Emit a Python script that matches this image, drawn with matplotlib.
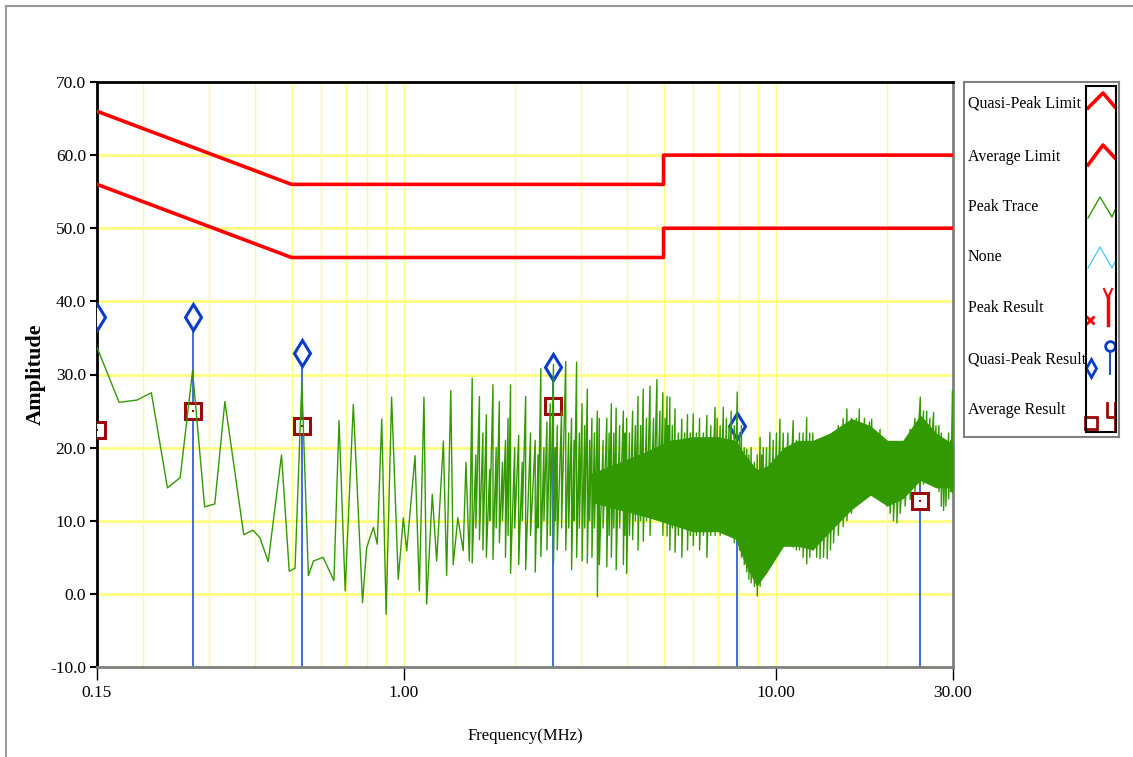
import matplotlib
matplotlib.use('Agg')
import matplotlib.pyplot as plt
from matplotlib.lines import Line2D
from matplotlib.patches import Rectangle
from matplotlib.ticker import FixedLocator, NullFormatter

plt.rcParams['font.family'] = ['Liberation Serif', 'DejaVu Serif']

# -----------------------------
# Data (MHz / dBuV)
# -----------------------------
qp_limit_f = [0.15, 0.5, 5.0, 5.0, 30.0]
qp_limit_v = [66.0, 56.0, 56.0, 60.0, 60.0]
avg_limit_f = [0.15, 0.5, 5.0, 5.0, 30.0]
avg_limit_v = [56.0, 46.0, 46.0, 50.0, 50.0]

# peak trace below 1.5 MHz, point by point
trace_f = [0.150, 0.172, 0.192, 0.210, 0.232, 0.251, 0.271, 0.292, 0.311, 0.331,
           0.372, 0.394, 0.411, 0.433, 0.470, 0.493, 0.511, 0.533, 0.555, 0.573,
           0.608, 0.650, 0.671, 0.697, 0.733, 0.776, 0.796, 0.830, 0.850, 0.874,
           0.898, 0.929, 0.968, 0.999, 1.020, 1.074, 1.103, 1.135, 1.154, 1.195,
           1.228, 1.280, 1.306, 1.340, 1.360, 1.400, 1.447, 1.472, 1.503]
trace_v = [33.7, 26.2, 26.5, 27.5, 14.5, 15.9, 30.5, 11.9, 12.3, 26.3,
           8.1, 8.7, 7.7, 4.4, 19.0, 3.1, 3.5, 29.0, 2.5, 4.5,
           5.0, 1.8, 23.7, 0.4, 25.9, -1.2, 6.3, 9.1, 6.8, 23.9,
           -2.8, 26.9, 2.0, 10.4, 5.9, 18.9, 0.4, 26.9, -1.4, 13.6,
           4.5, 20.9, 2.5, 27.8, 4.0, 10.4, 5.9, 18.0, 4.5]

# above 1.5 MHz the sweep is dense: top and bottom of each column
col_f = [1.53, 1.565, 1.60, 1.635, 1.67, 1.705, 1.74, 1.775, 1.81, 1.845,
         1.88, 1.91, 1.94, 1.99, 2.04, 2.085, 2.13, 2.195, 2.26, 2.30,
         2.34, 2.385, 2.43, 2.48, 2.53, 2.56, 2.59, 2.66, 2.73, 2.78,
         2.83, 2.875, 2.92, 2.97, 3.02, 3.07, 3.12, 3.165, 3.21, 3.26,
         3.32, 3.36, 3.44, 3.52, 3.57, 3.62, 3.675, 3.73, 3.81, 3.90,
         3.94, 3.98, 4.05, 4.13, 4.20, 4.27, 4.34, 4.41, 4.50, 4.60,
         4.70, 4.80, 4.89, 4.98, 5.05, 5.11, 5.155, 5.20,
         5.28, 5.37, 5.48, 5.60, 5.70, 5.80, 5.90, 6.01, 6.13, 6.25,
         6.40, 6.54, 6.70, 6.88, 6.97, 7.10, 7.24, 7.38, 7.50, 7.60,
         7.75, 7.89, 8.00, 8.10, 8.24, 8.37, 8.48, 8.60, 8.77, 8.93,
         9.09, 9.18, 9.27, 9.46, 9.66, 9.86, 10.06, 10.28, 10.49, 10.80,
         11.16, 11.38, 11.60, 11.86, 12.13, 12.36, 12.60, 12.90, 13.17, 13.46,
         13.77, 14.05, 14.32, 14.75, 15.20, 15.56, 16.00, 16.50, 16.80, 17.35,
         17.90, 18.14, 18.60, 19.10, 19.50, 19.90, 20.32, 20.75, 21.20, 21.62,
         22.30, 23.00, 23.70, 24.50, 25.00, 25.50, 26.00, 26.60, 27.00, 27.50,
         27.90, 28.30, 28.70, 29.20, 29.60, 29.90]
col_hi = [29.5, 19.0, 27.0, 22.0, 24.5, 17.0, 28.6, 20.0, 26.3, 18.0,
          21.0, 24.0, 28.6, 20.0, 21.7, 18.0, 27.0, 22.0, 21.0, 19.0,
          30.8, 20.0, 23.5, 26.0, 31.4, 20.0, 23.0, 25.0, 31.8, 22.0,
          24.0, 21.0, 31.7, 22.0, 26.0, 23.0, 28.0, 21.0, 24.0, 22.0,
          25.0, 24.0, 21.0, 24.0, 22.0, 26.0, 22.0, 25.4, 23.0, 25.0,
          22.0, 24.0, 22.0, 25.0, 23.0, 27.0, 23.0, 28.0, 24.0, 28.4,
          24.0, 29.3, 25.0, 27.5, 24.0, 27.0, 23.0, 26.9,
          23.0, 25.3, 22.0, 23.9, 22.0, 24.5, 22.0, 24.6, 22.0, 24.0,
          22.0, 24.4, 23.0, 25.5, 24.0, 23.0, 25.5, 24.0, 23.0, 25.0,
          23.0, 27.6, 22.0, 23.0, 20.0, 19.8, 19.0, 20.0, 18.0, 19.0,
          21.4, 19.0, 20.0, 20.0, 22.1, 21.0, 22.0, 23.9, 22.0, 22.0,
          23.7, 21.0, 22.0, 22.0, 24.1, 22.0, 22.0, 21.0, 21.2, 20.0,
          20.5, 21.0, 21.6, 23.0, 24.0, 25.3, 24.0, 24.0, 25.3, 24.0,
          23.5, 23.9, 22.0, 22.5, 21.0, 20.0, 19.8, 20.0, 20.0, 20.5,
          21.0, 22.5, 24.0, 26.9, 25.0, 25.0, 24.0, 24.8, 23.0, 23.0,
          22.0, 21.2, 21.0, 22.0, 21.0, 27.8]
col_lo = [4.2, 9.0, 7.4, 6.0, 5.0, 10.0, 4.7, 9.0, 7.0, 10.0,
          5.0, 8.0, 2.8, 9.0, 4.0, 10.0, 3.3, 8.0, 3.0, 9.0,
          5.1, 10.0, 6.0, 8.0, 4.0, 10.0, 6.0, 9.0, 6.0, 9.0,
          3.3, 10.0, 5.0, 9.0, 4.5, 9.0, 4.2, 10.0, 5.0, 9.0,
          -0.4, 4.0, 9.0, 3.7, 8.0, 5.0, 9.0, 3.3, 9.0, 4.0,
          8.0, 2.8, 8.0, 7.4, 10.0, 6.0, 10.0, 7.2, 10.0, 8.0,
          11.0, 10.2, 11.0, 8.0, 10.0, 7.9, 10.0, 6.0,
          9.0, 5.7, 8.0, 5.0, 9.0, 6.0, 8.0, 6.6, 8.0, 6.0,
          8.0, 5.0, 8.0, 8.0, 9.2, 8.0, 9.0, 8.7, 9.0, 8.0,
          7.0, 7.3, 6.0, 5.0, 4.0, 3.0, 2.0, 1.5, 1.0, -0.3,
          1.0, 2.0, 2.7, 4.0, 4.5, 5.5, 6.0, 6.5, 7.3, 7.0,
          6.4, 6.0, 6.0, 5.0, 4.1, 5.0, 6.0, 5.0, 4.8, 5.0,
          4.8, 6.0, 7.0, 8.0, 9.2, 10.0, 11.0, 12.4, 12.5, 13.0,
          14.7, 14.0, 14.0, 13.0, 12.9, 12.0, 11.0, 10.0, 9.7, 11.0,
          12.0, 12.9, 14.0, 14.7, 15.0, 16.0, 17.0, 17.9, 16.0, 14.0,
          12.0, 11.4, 12.0, 13.0, 14.0, 13.8]

# solid part of the dense sweep
band_f = [3.2, 3.8, 4.5, 5.2, 6.0, 7.0, 7.8, 8.3, 8.9, 9.5, 10.5,
          11.5, 12.6, 14.0, 16.0, 18.0, 20.0, 22.0, 24.5, 27.0, 30.0]
band_hi = [16.5, 18.0, 19.5, 21.0, 21.5, 21.5, 21.0, 19.0, 17.0, 17.5, 20.0,
           21.0, 21.0, 22.0, 24.0, 23.0, 21.0, 21.0, 24.5, 22.0, 20.5]
band_lo = [12.5, 11.5, 10.5, 9.5, 8.5, 8.5, 7.5, 4.0, 1.0, 3.0, 6.5,
           6.5, 6.0, 8.5, 11.5, 13.5, 12.0, 13.0, 15.5, 14.5, 14.5]

# final measurement results
res_f = [0.15, 0.272, 0.533, 2.52, 7.87, 24.4]
qp_res = [37.8, 37.8, 33.0, 31.0, 23.0, 21.0]
avg_res = [22.4, 25.0, 22.9, 25.7, 17.1, 12.7]

x_ticks = [0.15, 1.0, 10.0, 30.0]
x_tick_labels = ['0.15', '1.00', '10.00', '30.00']
y_ticks = [-10, 0, 10, 20, 30, 40, 50, 60, 70]

legend_names = ['Quasi-Peak Limit', 'Average Limit', 'Peak Trace', 'None',
                'Peak Result', 'Quasi-Peak Result', 'Average Result']

# trace as one line: point part, then the dense columns
peak_f = list(trace_f)
peak_v = list(trace_v)
for f, hi, lo in zip(col_f, col_hi, col_lo):
    peak_f += [f, f]
    peak_v += [hi, lo]

# -----------------------------
# Plot
# -----------------------------
W, H = 1133, 757
fig = plt.figure(figsize=(W / 100, H / 100), dpi=100)
ax = fig.add_axes([97 / W, 90 / H, 856 / W, 585 / H])

ax.set_xscale('log')
ax.set_xlim(0.15, 30)
ax.set_ylim(-10, 70)

ax.set_xticks(x_ticks)
ax.set_xticklabels(x_tick_labels)
ax.xaxis.set_minor_locator(FixedLocator([0.2, 0.3, 0.4, 0.5, 0.6, 0.7, 0.8, 0.9,
                                         2, 3, 4, 5, 6, 7, 8, 9, 20]))
ax.xaxis.set_minor_formatter(NullFormatter())
ax.set_yticks(y_ticks)
ax.set_yticklabels([f'{v:.1f}' for v in y_ticks])

ax.grid(axis='x', which='both', color='#ffff80', lw=1.0)
ax.grid(axis='y', which='major', color='#ffff80', lw=2.0)
ax.set_axisbelow(True)

ax.tick_params(axis='x', which='major', direction='out', length=9, width=1,
               labelsize=12.5, pad=4)
ax.tick_params(axis='x', which='minor', length=0)
ax.tick_params(axis='y', direction='out', length=5, width=1.5, labelsize=12.5, pad=3)

for side in ['left', 'top']:
    ax.spines[side].set_color('black')
    ax.spines[side].set_linewidth(2)
for side in ['right', 'bottom']:
    ax.spines[side].set_color('#808080')
    ax.spines[side].set_linewidth(2)

# result stems and markers
ax.vlines(res_f, -10, qp_res, color='#3060e0', lw=1.3, zorder=2)
ax.plot(res_f, qp_res, ls='none', marker='d', ms=13, mew=2.2,
        mec='#0a3cc8', mfc='white', zorder=3)
ax.plot(res_f, avg_res, ls='none', marker='s', ms=11, mew=2.2,
        mec='#9a0a0a', mfc='white', zorder=3)
ax.plot(res_f, avg_res, ls='none', marker='s', ms=2, mew=0,
        mfc='#9a0a0a', zorder=3)

# peak trace
ax.fill_between(band_f, band_lo, band_hi, color='#339900', lw=0, zorder=4)
ax.plot(peak_f, peak_v, color='#339900', lw=1.0, zorder=4)

# limits
ax.plot(qp_limit_f, qp_limit_v, color='#ff0000', lw=2.6, zorder=5)
ax.plot(avg_limit_f, avg_limit_v, color='#ff0000', lw=2.6, zorder=5)

ax.set_xlabel('Frequency(MHz)', fontsize=12)
ax.xaxis.set_label_coords(0.5, -0.118)
ax.xaxis.label.set_va('center')
ax.set_ylabel('Amplitude', fontsize=16, fontweight='bold')
ax.yaxis.set_label_coords(-0.072, 0.5)
ax.yaxis.label.set_va('center')

# -----------------------------
# Legend panel
# -----------------------------
lax = fig.add_axes([964 / W, 320 / H, 155 / W, 355 / H])
lax.set_xlim(0, 155)
lax.set_ylim(355, 0)
lax.set_xticks([])
lax.set_yticks([])
for s in lax.spines.values():
    s.set_color('#808080')
    s.set_linewidth(1.5)
lax.add_patch(Rectangle((122, 4), 30, 346, fill=False, ec='black', lw=1.5, zorder=3))

text_y = [22, 75, 125, 175, 226, 278, 328]
for name, y in zip(legend_names, text_y):
    lax.text(4, y, name, fontsize=11.5, va='center', ha='left', zorder=2)

lax.plot([124, 139, 151], [26, 11, 25], color='#ff0000', lw=2.6)
lax.plot([124, 139, 151], [83, 63, 76], color='#ff0000', lw=2.6)
lax.plot([124, 136, 148, 151], [136, 115, 135, 128], color='#339900', lw=1)
lax.plot([124, 136, 148, 151], [186, 165, 186, 180], color='#55ccff', lw=1)
# peak result symbol
lax.plot([126], [238], marker='x', ms=6, mew=2, color='#ff0000')
lax.plot([144, 144], [214, 243], color='#ff0000', lw=2.5)
lax.plot([140, 144, 148], [207, 216, 207], color='#ff0000', lw=1.5)
# quasi-peak result symbol
lax.plot([127], [286], marker='d', ms=9, mew=2, mec='#0a3cc8', mfc='white')
lax.plot([146, 146], [268, 292], color='#0a3cc8', lw=1.3)
lax.plot([146], [264], marker='o', ms=7, mew=2, mec='#0a3cc8', mfc='white')
# average result symbol
lax.plot([127], [341], marker='s', ms=8, mew=2, mec='#9a0a0a', mfc='white')
lax.plot([151, 151], [321, 349], color='#9a0a0a', lw=2)
lax.plot([143, 143, 151], [321, 335, 335], color='#9a0a0a', lw=2)

# window frame
fig.add_artist(Line2D([6 / W, 1], [1 - 6 / H, 1 - 6 / H], color='#9a9a9a', lw=1.5,
                      transform=fig.transFigure))
fig.add_artist(Line2D([6 / W, 6 / W], [0, 1 - 6 / H], color='#9a9a9a', lw=1.5,
                      transform=fig.transFigure))

fig.savefig('out.png', dpi=100)
